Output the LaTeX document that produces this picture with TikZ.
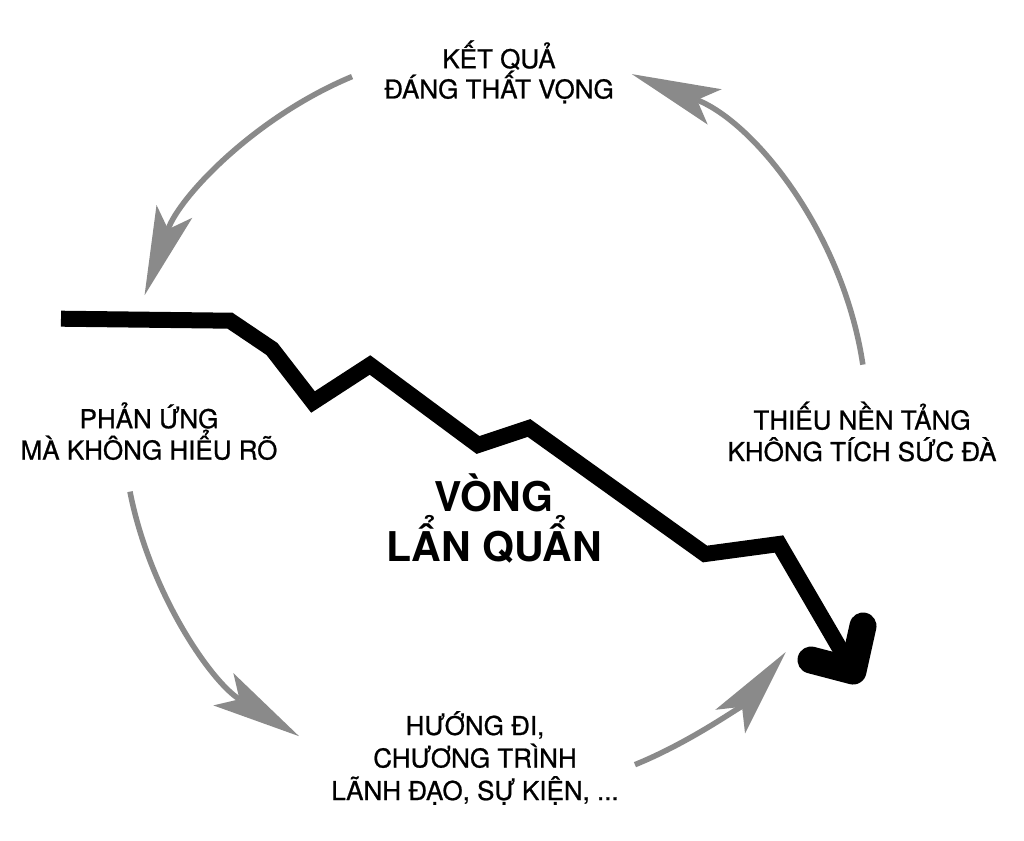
\documentclass[tikz,border=0pt]{standalone}
\usepackage{fontspec}
\setmainfont{TeX Gyre Heros}
\newfontfamily\medfont[FakeBold=0.8]{TeX Gyre Heros}
\usetikzlibrary{arrows.meta,calc}
\definecolor{arcgray}{RGB}{138,138,138}
\tikzset{
  cyclearc/.style={draw=arcgray, line width=5.5pt, line cap=butt,
    -{Stealth[length=89pt,width=38pt,inset=19pt,line width=0pt]}},
  lbl/.style={inner sep=0pt, font=\medfont\fontsize{26}{31.5}\selectfont},
  title/.style={inner sep=0pt, font=\fontsize{41}{50}\selectfont\bfseries},
  trend/.style={line width=16pt, line join=miter, line cap=butt, draw=black},
  trendhead/.style={line width=27pt, line join=round, line cap=round, draw=black}
}
\begin{document}
\begin{tikzpicture}[x=1pt,y=-1pt]
\useasboundingbox (0,0) rectangle (1024,840);
\fill[white] (0,0) rectangle (1024,840);
\coordinate (ctr) at (495,420);
% gray cycle arcs
\coordinate (a1) at ($(ctr)+(-8.56:372)$);
\coordinate (a2) at ($(ctr)+(-112.6:372)$);
\coordinate (a3) at ($(ctr)+(-191.1:372)$);
\coordinate (a4) at ($(ctr)+(67.9:372)$);
\draw[cyclearc] (a1) arc[start angle=-8.56, end angle=-68.4, radius=372];
\draw[cyclearc] (a2) arc[start angle=-112.6, end angle=-160.4, radius=372];
\draw[cyclearc] (a3) arc[start angle=-191.1, end angle=-238.2, radius=372];
\draw[cyclearc] (a4) arc[start angle=67.9, end angle=38.6, radius=372];
% black zigzag trend
\coordinate (p0) at (61,318.7);
\coordinate (p1) at (230,320.7);
\coordinate (p2) at (272,349);
\coordinate (p3) at (313,402);
\coordinate (p4) at (370,365);
\coordinate (p5) at (478,445);
\coordinate (p6) at (529,428);
\coordinate (p7) at (705,554);
\coordinate (p8) at (779,544);
\coordinate (tip) at (853,671);
\coordinate (armL) at (811,660);
\coordinate (armR) at (863,626);
\draw[trend] (p0) -- (p1) -- (p2) -- (p3) -- (p4) -- (p5) -- (p6) -- (p7) -- (p8) -- (tip);
\draw[trendhead] (armL) -- (tip) -- (armR);
% labels (anchor base = baseline of the last line)
\node[lbl, align=center, anchor=base, font=\medfont\fontsize{26}{28.5}\selectfont] (top) at (499,98.5) {KẾT QUẢ\\ĐÁNG THẤT VỌNG};
\node[lbl, align=center, anchor=base] (right) at (862,461) {THIẾU NỀN TẢNG\\KHÔNG TÍCH SỨC ĐÀ};
\node[lbl, align=center, anchor=base, font=\medfont\fontsize{26}{28.5}\selectfont] (left) at (149,459.5) {PHẢN ỨNG\\MÀ KHÔNG HIỂU RÕ};
\node[lbl, align=center, anchor=base, font=\medfont\fontsize{26}{32.5}\selectfont] (bottom) at (475,800) {HƯỚNG ĐI,\\CHƯƠNG TRÌNH\\LÃNH ĐẠO, SỰ KIỆN, ...};
\node[title, align=center, anchor=base] (center) at (494,561.7) {VÒNG\\LẨN QUẨN};
\end{tikzpicture}
\end{document}
